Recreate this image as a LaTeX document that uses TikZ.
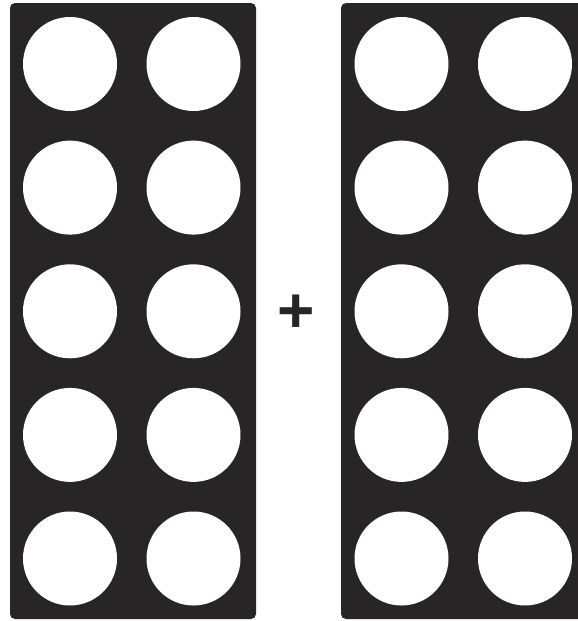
\documentclass[tikz,border=0pt]{standalone}
\usepackage{fontspec}
\setmainfont{Liberation Sans}
\definecolor{frame}{HTML}{272526}
\tikzset{
  x=1pt,y=-1pt,
  frm/.style={fill=frame,draw=none,rounded corners=5pt},
  hole/.style={circle,fill=white,draw=none,minimum size=94pt,inner sep=0pt},
  plus/.style={text=frame,font=\bfseries\fontsize{64}{64}\selectfont,inner sep=0pt}
}
\begin{document}
\begin{tikzpicture}
\useasboundingbox (0,0) rectangle (578,621);
\clip (0,0) rectangle (578,621);
\fill[white] (0,0) rectangle (578,621);
\path[frm] (10,3) rectangle (256,619);
\path[frm] (341,3) rectangle (600,619);
\foreach \r/\y in {1/64,2/187.6,3/311.3,4/434.9,5/558.5}{
  \node[hole] (L\r a) at (70,\y) {};
  \node[hole] (L\r b) at (193.5,\y) {};
  \node[hole] (R\r a) at (401.5,\y) {};
  \node[hole] (R\r b) at (525,\y) {};
}
\node[plus] (p) at (296,314) {+};
\end{tikzpicture}
\end{document}
